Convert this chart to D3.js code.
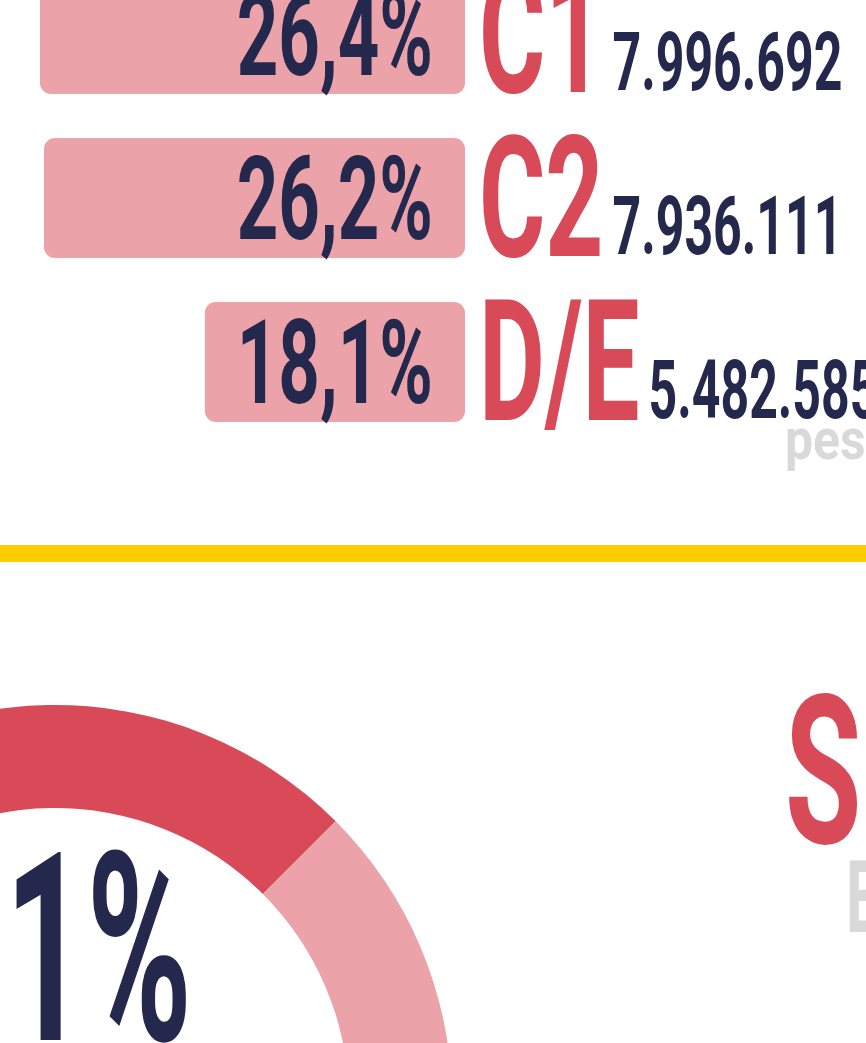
<!DOCTYPE html>
<meta charset="utf-8">
<script src="https://d3js.org/d3.v7.min.js"></script>
<style>
	html, body { margin: 0; padding: 0; background: #ffffff; overflow: hidden; }
	svg { display: block; }
	text { font-family: Roboto, "Liberation Sans", sans-serif; font-weight: 700; }
</style>
<svg width="866" height="1043"></svg>
<script>
	// classes sociais
	var classes = ['C1', 'C2', 'D/E']
	var shares = [26.4, 26.2, 18.1]
	var people = [7996692, 7936111, 5482585]
	var unitLabel = 'pessoas'

	// donut (parte visível)
	var donutValues = [51.1, 48.9]
	var titleText = 'S'
	var subText = 'E'

	var red = '#d94a58', pink = '#eba3a9', navy = '#25284d', yellow = '#ffcc00', grey = '#d9d9d9'

	var br = d3.formatLocale({ decimal: ',', thousands: '.', grouping: [3], currency: ['', ''] })
	var fmtPct = br.format('.1f'), fmtInt = br.format(',d')

	var svg = d3.select('svg')
	var rows = classes.map((c, i) => ({ cls: c, share: shares[i], n: people[i] }))

	var barRight = 465
	var y = d3.scaleBand().domain(classes).range([-26, -26 + 3 * 164 - 44]).paddingInner(44 / 164)
	var w = d3.scaleLinear().domain([5, 26.4]).range([0, 425])

	// texto condensado: escala horizontal
	function ctext(sel, x, yy, sx, size, fill, str, anchor) {
		var g = sel.append('g').attr('transform', 'translate(' + x + ',' + yy + ') scale(' + sx + ',1)')
		return g.append('text')
			.attr('font-size', size)
			.attr('fill', fill)
			.attr('text-anchor', anchor || 'start')
			.text(str)
	}

	var row = svg.selectAll('.row').data(rows).enter().append('g').attr('class', 'row')

	row.append('rect')
		.attr('x', d => barRight - w(d.share))
		.attr('y', d => y(d.cls))
		.attr('width', d => w(d.share))
		.attr('height', y.bandwidth())
		.attr('rx', 11)
		.attr('fill', pink)

	row.each(function (d) {
		var g = d3.select(this)
		var top = y(d.cls), bot = top + y.bandwidth()
		ctext(g, 433, top + y.bandwidth() / 2 + 41, 0.62, 117, navy, fmtPct(d.share) + '%', 'end')
		var lab = ctext(g, 479, bot - 2, 0.6, 169, red, d.cls)
		var lw = lab.node().getComputedTextLength() * 0.6
		ctext(g, 479 + lw + 9, bot - 4, 0.61, 82, navy, fmtInt(d.n))
	})

	var last = rows[rows.length - 1]
	ctext(svg, 785, y(last.cls) + y.bandwidth() + 37, 0.86, 58, grey, unitLabel)

	// faixa amarela
	svg.append('rect')
		.attr('x', 0).attr('y', 545)
		.attr('width', 866).attr('height', 17)
		.attr('fill', yellow)

	// donut
	var total = d3.sum(donutValues)
	var start = Math.PI / 4 - donutValues[0] / total * 2 * Math.PI
	var pie = d3.pie().sort(null).startAngle(start).endAngle(start + 2 * Math.PI)
	var arc = d3.arc().innerRadius(294).outerRadius(397)
	var dg = svg.append('g').attr('transform', 'translate(55,1102)')
	dg.selectAll('path')
		.data(pie(donutValues))
		.enter().append('path')
		.attr('d', arc)
		.attr('fill', (d, i) => i === 0 ? red : pink)

	ctext(svg, 192, 1040, 0.54, 264, navy, fmtPct(donutValues[0]) + '%', 'end')

	ctext(svg, 785, 843, 0.6, 207, red, titleText)
	ctext(svg, 846, 932, 0.6, 101, grey, subText)
</script>
